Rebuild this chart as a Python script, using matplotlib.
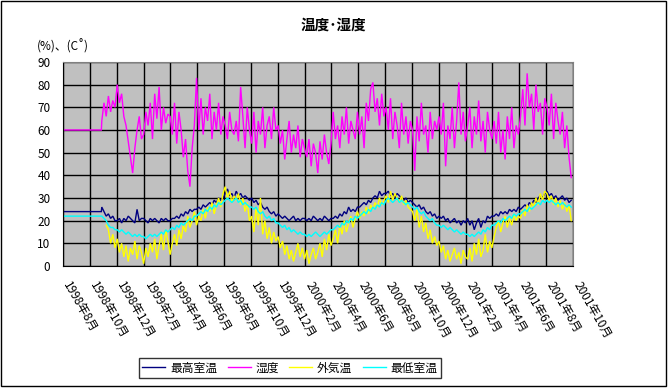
import matplotlib
matplotlib.use("Agg")
import matplotlib.pyplot as plt
import matplotlib.patches as patches
import matplotlib.transforms as mtransforms
import numpy as np
import pandas as pd

plt.rcParams['font.family'] = ['Noto Sans CJK JP', 'DejaVu Sans']

# chart data: flat placeholder period, then one reading every 5 days
flat_dates = ["1998-08-01", "1998-10-27"]
flat_max, flat_hum, flat_min = 24, 60, 22
start_date = "1998-10-28"

max_room = [
    26, 24, 22, 23, 21, 22, 20,
    20, 21, 19, 21, 20, 22, 21, 20, 19, 25, 20, 21,
    21, 20, 19, 21, 20, 21, 20, 19, 21, 20, 21, 20,
    20, 21, 21, 22, 21, 23, 22, 24, 23, 25, 24, 25,
    25, 26, 25, 27, 26, 27, 28, 27, 29, 28, 30, 29, 30,
    32, 34, 31, 32, 30, 33, 31, 32, 30, 31, 30, 29,
    30, 28, 29, 27, 28, 26, 25, 26, 24, 23, 24, 22,
    23, 22, 21, 22, 21, 20, 21, 22, 20, 21, 20, 21,
    21, 20, 21, 20, 22, 21, 20, 21, 20, 22, 21, 20, 21,
    21, 22, 21, 23, 22, 24, 23, 26, 24, 25, 24, 26,
    26, 27, 28, 27, 29, 28, 30, 31, 30, 33, 31, 32,
    32, 33, 31, 32, 30, 32, 31, 30, 29, 30, 28, 29,
    28, 27, 26, 27, 25, 26, 24, 23, 24, 22, 23, 21,
    22, 21, 22, 20, 21, 19, 20, 21, 19, 20, 18, 20, 19,
    21, 18, 20, 16, 19, 21, 17, 20, 19, 22, 21, 22,
    22, 23, 22, 24, 23, 24, 23, 25, 24, 25, 24, 26,
    25, 26, 27, 26, 28, 27, 29, 28, 30, 31, 30, 32,
    33, 31, 32, 30, 31, 29, 30, 31, 29, 30, 28, 29,
]

humidity = [
    64, 72, 66, 75, 68, 73, 70,
    80, 72, 76, 66, 62, 55, 48, 41, 52, 60, 66, 56,
    58, 68, 62, 72, 56, 76, 65, 79, 60, 70, 63, 67,
    66, 58, 72, 54, 68, 60, 48, 56, 42, 35, 52, 62,
    83, 60, 74, 58, 70, 64, 76, 56, 68, 60, 72, 58, 66,
    62, 56, 68, 60, 58, 64, 55, 79, 66, 52, 70, 60,
    54, 68, 50, 64, 58, 70, 52, 62, 66, 56, 70, 60,
    62, 54, 60, 47, 56, 64, 50, 58, 52, 62, 48, 56,
    52, 48, 56, 44, 54, 50, 41, 55, 47, 58, 50, 45, 54,
    68, 56, 62, 52, 66, 58, 70, 54, 64, 60, 56, 68,
    58, 66, 52, 72, 64, 78, 81, 68, 74, 62, 76, 66,
    70, 60, 74, 56, 68, 62, 52, 72, 58, 66, 54, 64,
    60, 42, 66, 55, 72, 58, 62, 50, 68, 56, 64, 60,
    66, 58, 72, 44, 62, 56, 70, 52, 64, 81, 58, 68, 55,
    62, 70, 52, 66, 58, 73, 55, 64, 50, 68, 60, 56,
    64, 54, 68, 50, 60, 47, 66, 56, 70, 52, 62, 58,
    66, 78, 62, 85, 70, 76, 60, 80, 68, 72, 58, 74,
    70, 62, 76, 56, 72, 64, 58, 68, 52, 62, 48, 39,
]

outside = [
    np.nan, np.nan, 18, 16, 10, 14, 8,
    12, 6, 10, 4, 9, 2, 8, 5, 11, 3, 9, 6,
    1, 8, 4, 10, 6, 12, 3, 9, 14, 7, 16, 11,
    5, 10, 14, 9, 16, 12, 18, 15, 22, 17, 20, 24,
    18, 22, 20, 25, 21, 26, 24, 28, 23, 27, 30, 26, 32,
    35, 30, 33, 28, 31, 29, 32, 27, 30, 24, 28, 20,
    22, 15, 26, 18, 30, 14, 20, 12, 17, 10, 15, 11,
    13, 8, 11, 5, 9, 3, 7, 2, 6, 10, 4, 8,
    3, 7, 1, 5, 8, 3, 6, 10, 4, 12, 7, 14, 9,
    12, 16, 10, 18, 14, 20, 15, 19, 22, 17, 21, 24,
    21, 24, 22, 26, 23, 27, 25, 28, 26, 30, 27, 29,
    31, 28, 33, 29, 32, 30, 28, 31, 27, 29, 26, 25,
    24, 20, 25, 17, 22, 15, 19, 12, 16, 10, 13, 9,
    11, 6, 9, 3, 7, 2, 5, 8, 3, 6, 1, 7, 4,
    3, 8, 2, 10, 5, 12, 4, 7, 14, 6, 11, 8,
    13, 17, 20, 15, 19, 22, 17, 21, 18, 23, 20, 22,
    21, 25, 22, 27, 24, 28, 26, 30, 27, 32, 29, 33,
    32, 29, 31, 27, 30, 26, 29, 25, 28, 24, 27, 20,
]

min_room = [
    22, 21, 20, 18, 17, 17, 16,
    16, 15, 16, 15, 14, 15, 14, 13, 14, 13, 14, 13,
    13, 12, 13, 14, 13, 14, 13, 14, 15, 14, 16, 15,
    16, 17, 16, 18, 17, 19, 18, 19, 20, 21, 20, 22,
    22, 23, 24, 23, 25, 24, 26, 25, 27, 26, 28, 27, 28,
    29, 30, 29, 28, 29, 30, 28, 29, 27, 28, 27, 26,
    26, 25, 26, 24, 23, 24, 22, 21, 22, 20, 21, 19,
    19, 18, 17, 18, 16, 17, 15, 16, 15, 14, 15, 14,
    14, 13, 14, 13, 14, 15, 14, 13, 14, 15, 14, 15, 16,
    16, 17, 18, 17, 19, 18, 20, 19, 21, 20, 22, 21,
    22, 23, 24, 23, 25, 24, 26, 25, 27, 26, 28, 27,
    29, 30, 29, 28, 29, 30, 28, 29, 28, 27, 28, 27,
    26, 25, 26, 24, 23, 24, 22, 21, 20, 21, 19, 18,
    18, 17, 18, 17, 16, 17, 16, 15, 16, 15, 14, 15, 14,
    14, 13, 14, 13, 14, 15, 14, 16, 15, 17, 16, 18,
    18, 19, 20, 19, 21, 20, 21, 22, 21, 23, 22, 23,
    23, 24, 25, 24, 26, 25, 26, 27, 28, 27, 29, 28,
    29, 28, 29, 28, 27, 28, 27, 28, 27, 26, 27, 26,
]

tick_dates = pd.date_range("1998-08-01", "2001-10-01", freq="2MS")
tick_labels = [f"{d.year}年{d.month}月" for d in tick_dates]

series_names = ["最高室温", "湿度", "外気温", "最低室温"]
series_colors = ["#000080", "#FF00FF", "#FFFF00", "#00FFFF"]

dates = pd.date_range(start_date, periods=len(humidity), freq="5D")
fd = pd.to_datetime(flat_dates)

fig = plt.figure(figsize=(6.68, 3.88), dpi=100)
ax = fig.add_axes([63/668, 1 - 266/388, 510/668, 204/388])
ax.set_facecolor("#C0C0C0")

all_series = [
    (list(fd) + list(dates), [flat_max]*2 + max_room),
    (list(fd) + list(dates), [flat_hum]*2 + humidity),
    (list(dates), outside),
    (list(fd) + list(dates), [flat_min]*2 + min_room),
]
for (x, y), name, c in zip(all_series, series_names, series_colors):
    ax.plot(x, y, color=c, lw=1.0, label=name, solid_joinstyle="miter")

ax.set_ylim(0, 90)
ax.set_yticks(range(0, 91, 10))
ax.set_xlim(tick_dates[0], tick_dates[-1])
ax.set_xticks(tick_dates)
ax.set_xticklabels([])

# slanted date labels, starting just right of each gridline
lab_tf = mtransforms.blended_transform_factory(ax.transData, ax.transAxes)
lab_tf = lab_tf + mtransforms.ScaledTranslation(9/100, -13/100, fig.dpi_scale_trans)
for d, lab in zip(tick_dates, tick_labels):
    ax.text(d, 0, lab, transform=lab_tf, rotation=-60, ha="left", va="top",
            rotation_mode="anchor", fontsize=8.5, clip_on=False)

ax.grid(True, color="black", lw=1.0)
ax.set_axisbelow(True)
ax.tick_params(axis="both", length=0, labelsize=8.5)
ax.tick_params(axis="y", pad=9)
for s in ["top", "right"]:
    ax.spines[s].set_color("#808080")
for s in ["left", "bottom"]:
    ax.spines[s].set_color("black")

fig.text(333/668, 1 - 25/388, "温度･湿度", ha="center", va="center",
         fontsize=10.5, fontweight="bold")
fig.text(37/668, 1 - 46/388, "(%)、(C˚)", ha="left", va="center", fontsize=8.5)

leg = fig.legend(loc="center", bbox_to_anchor=(290/668, 1 - 368/388), ncol=4,
                 fontsize=8.5, frameon=True, fancybox=False, handlelength=1.95,
                 columnspacing=0.9, handletextpad=0.4, borderpad=0.3,
                 borderaxespad=0)
leg.get_frame().set_edgecolor("black")
leg.get_frame().set_linewidth(1.0)

fig.patches.append(patches.Rectangle((0.5/668, 2.5/388), 665/668, 385/388,
                                     transform=fig.transFigure, fill=False,
                                     edgecolor="black", lw=1.0))

fig.savefig("out.png", dpi=100)
